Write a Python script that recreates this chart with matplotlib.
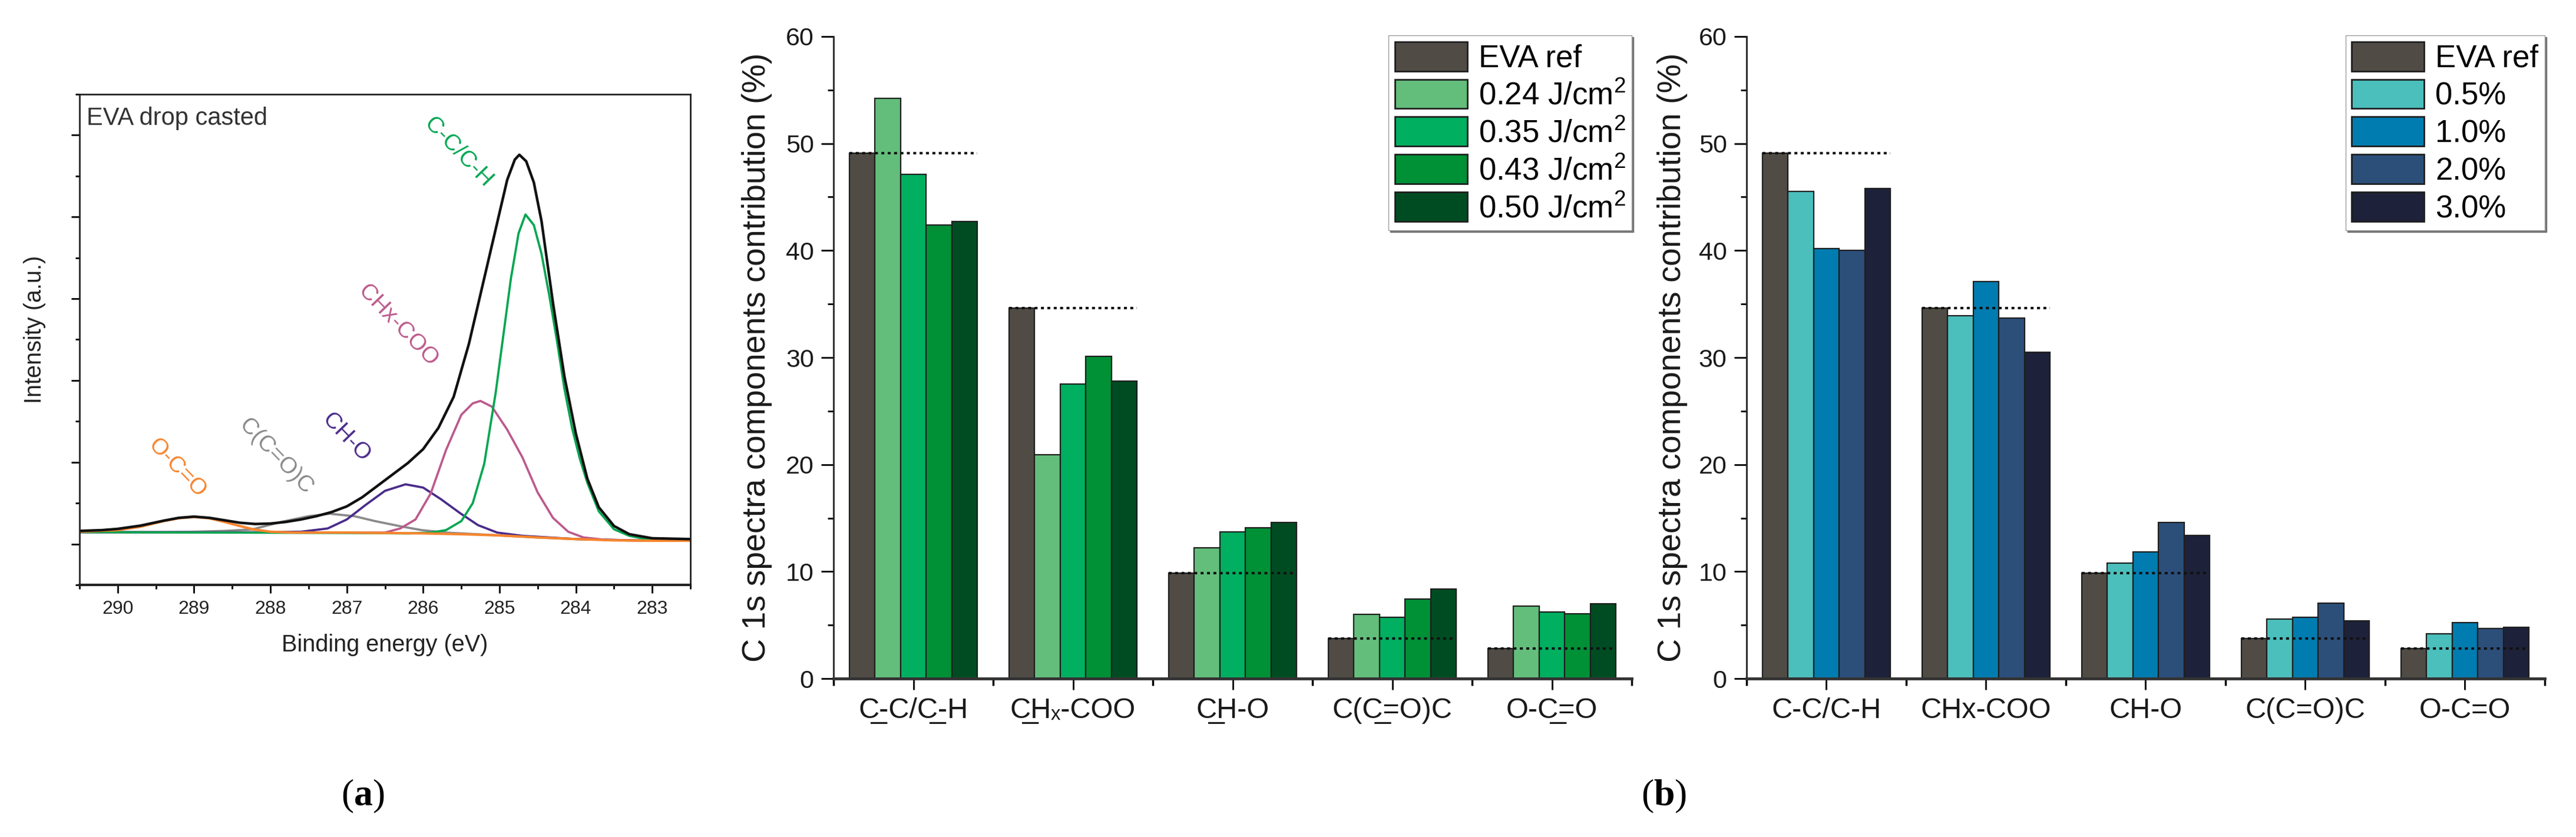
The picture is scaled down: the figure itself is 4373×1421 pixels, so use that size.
import numpy as np
import matplotlib.pyplot as plt
from matplotlib.patches import Patch
from matplotlib.ticker import MultipleLocator

plt.rcParams['font.family'] = ['Liberation Sans', 'DejaVu Sans']
plt.rcParams['mathtext.fontset'] = 'custom'
plt.rcParams['mathtext.rm'] = 'Liberation Sans'
plt.rcParams['mathtext.it'] = 'Liberation Sans:italic'
plt.rcParams['mathtext.bf'] = 'Liberation Serif:bold'

# ---- (a) C 1s fit of drop casted EVA ----
env_ev = [290.5, 290.2, 290.0, 289.7, 289.4, 289.2, 289.0, 288.8, 288.6, 288.4, 288.2, 288.0,
          287.8, 287.6, 287.4, 287.2, 287.0, 286.8, 286.6, 286.4, 286.2, 286.0, 285.8, 285.6,
          285.4, 285.2, 285.0, 284.9, 284.8, 284.74, 284.65, 284.55, 284.45, 284.3, 284.15,
          284.0, 283.85, 283.7, 283.5, 283.3, 283.0, 282.5]
env_int = [1.16, 1.17, 1.185, 1.225, 1.285, 1.32, 1.335, 1.32, 1.29, 1.26, 1.245, 1.25,
           1.27, 1.30, 1.34, 1.39, 1.46, 1.57, 1.71, 1.85, 1.99, 2.16, 2.42, 2.80,
           3.45, 4.25, 5.05, 5.45, 5.70, 5.76, 5.68, 5.42, 4.95, 3.95, 3.05,
           2.35, 1.80, 1.45, 1.22, 1.12, 1.07, 1.06]

cc_ev = [290.5, 287.0, 286.2, 285.9, 285.7, 285.5, 285.35, 285.2, 285.05, 284.95, 284.85, 284.75,
         284.66, 284.55, 284.45, 284.35, 284.25, 284.15, 284.05, 283.95, 283.85, 283.7, 283.5,
         283.3, 283.0, 282.5]
cc_int = [1.145, 1.135, 1.13, 1.14, 1.17, 1.28, 1.50, 1.98, 2.85, 3.55, 4.25, 4.80,
          5.03, 4.90, 4.55, 4.05, 3.50, 2.90, 2.42, 2.05, 1.75, 1.40, 1.18,
          1.10, 1.045, 1.04]

chx_ev = [290.5, 287.0, 286.5, 286.3, 286.1, 285.9, 285.7, 285.5, 285.35, 285.25, 285.1, 284.9,
          284.7, 284.5, 284.3, 284.1, 283.9, 283.6, 283.0, 282.5]
chx_int = [1.145, 1.14, 1.14, 1.19, 1.30, 1.62, 2.15, 2.58, 2.72, 2.75, 2.68, 2.40,
           2.06, 1.63, 1.32, 1.15, 1.08, 1.05, 1.04, 1.04]

cho_ev = [290.5, 288.0, 287.6, 287.25, 287.0, 286.75, 286.5, 286.23, 286.0, 285.77, 285.52,
          285.28, 285.03, 284.7, 284.0, 283.0, 282.5]
cho_int = [1.145, 1.145, 1.15, 1.19, 1.30, 1.48, 1.65, 1.73, 1.69, 1.55, 1.38,
           1.23, 1.14, 1.10, 1.06, 1.04, 1.04]

cco_ev = [290.5, 289.5, 289.0, 288.6, 288.23, 287.86, 287.5, 287.22, 286.9, 286.63, 286.26,
          286.02, 285.7, 285.3, 284.5, 284.0, 283.0, 282.5]
cco_int = [1.145, 1.145, 1.15, 1.16, 1.18, 1.27, 1.34, 1.37, 1.34, 1.28, 1.21,
           1.17, 1.14, 1.12, 1.08, 1.06, 1.04, 1.04]

occ_ev = [290.5, 290.0, 289.71, 289.4, 289.2, 289.0, 288.8, 288.6, 288.4, 288.23, 288.0, 287.7,
          287.0, 286.0, 285.5, 285.0, 284.5, 284.0, 283.5, 283.0, 282.5]
occ_int = [1.15, 1.17, 1.21, 1.28, 1.315, 1.33, 1.315, 1.27, 1.22, 1.18, 1.15, 1.14,
           1.14, 1.13, 1.12, 1.105, 1.08, 1.06, 1.045, 1.04, 1.04]

# ---- (b) component contributions (%) ----
groups_fl = ['C\u0332-C/C\u0332-H', 'C\u0332H\u2093-COO', 'C\u0332H-O', 'C(C\u0332=O)C', 'O-C\u0332=O']
groups_conc = ['C-C/C-H', 'CHx-COO', 'CH-O', 'C(C=O)C', 'O-C=O']

eva_ref = [49.1, 34.6, 9.85, 3.75, 2.8]
fl_024 = [54.2, 20.9, 12.2, 6.0, 6.78]
fl_035 = [47.1, 27.5, 13.7, 5.74, 6.2]
fl_043 = [42.4, 30.1, 14.1, 7.43, 6.06]
fl_050 = [42.7, 27.8, 14.6, 8.36, 7.0]
fl_names = ['EVA ref', '0.24 J/cm$^{2}$', '0.35 J/cm$^{2}$', '0.43 J/cm$^{2}$', '0.50 J/cm$^{2}$']
fl_colors = ['#504B45', '#63BE7B', '#00AF60', '#009036', '#004C22']

c_05 = [45.5, 33.9, 10.8, 5.56, 4.19]
c_10 = [40.2, 37.1, 11.85, 5.72, 5.22]
c_20 = [40.0, 33.7, 14.6, 7.07, 4.67]
c_30 = [45.8, 30.5, 13.4, 5.41, 4.81]
conc_names = ['EVA ref', '0.5%', '1.0%', '2.0%', '3.0%']
conc_colors = ['#504B45', '#4BBFBC', '#017CB0', '#2C4F7A', '#1D2139']

fig = plt.figure(figsize=(43.73, 14.21), dpi=100)

# ---------------- panel (a) ----------------
ax = fig.add_axes([0.03087, 0.30120, 0.23714, 0.58620])
ax.plot(cco_ev, cco_int, color='#8A8A8A', lw=2.7)
ax.plot(cho_ev, cho_int, color='#4A2B8A', lw=2.7)
ax.plot(chx_ev, chx_int, color='#BC5A8C', lw=2.7)
ax.plot(cc_ev, cc_int, color='#00A651', lw=2.7)
ax.plot(occ_ev, occ_int, color='#F7852E', lw=3)
ax.plot(env_ev, env_int, color='#111111', lw=3.2)

ax.set_xlim(290.5, 282.5)
ax.set_ylim(0.5, 6.5)
ax.xaxis.set_major_locator(MultipleLocator(1))
ax.xaxis.set_minor_locator(MultipleLocator(0.5))
ax.yaxis.set_major_locator(MultipleLocator(1))
ax.yaxis.set_minor_locator(MultipleLocator(0.5))
ax.tick_params(which='major', direction='out', length=10, width=2, labelsize=23, pad=9,
               labelcolor='#222222', labelleft=False)
ax.tick_params(which='minor', direction='out', length=5, width=2)
for s in ax.spines.values():
    s.set_linewidth(2)
    s.set_color('#222222')
ax.spines['bottom'].set_linewidth(3)

ax.set_xlabel('Binding energy (eV)', fontsize=28.5, color='#222222')
ax.xaxis.set_label_coords(0.5, -0.1)
ax.set_ylabel('Intensity (a.u.)', fontsize=28.5, color='#222222')
ax.yaxis.set_label_coords(-0.0545, 0.52)

ax.text(0.012, 0.975, 'EVA drop casted', transform=ax.transAxes, ha='left', va='top',
        fontsize=30, color='#333333')
ax.text(285.54, 5.79, 'C-C/C-H', color='#00A651', rotation=-46, ha='center', va='center', fontsize=28)
ax.text(286.33, 3.67, 'CHx-COO', color='#BC5A8C', rotation=-46, ha='center', va='center', fontsize=28)
ax.text(287.01, 2.30, 'CH-O', color='#4A2B8A', rotation=-46, ha='center', va='center', fontsize=28)
ax.text(287.93, 2.07, 'C(C=O)C', color='#8A8A8A', rotation=-46, ha='center', va='center', fontsize=28)
ax.text(289.22, 1.93, 'O-C=O', color='#F7852E', rotation=-46, ha='center', va='center', fontsize=28)

# ---------------- panel (b) ----------------
x = np.arange(1, 6)
w = 0.16
panels = [
    (0.32358, [eva_ref, fl_024, fl_035, fl_043, fl_050], fl_colors, fl_names, groups_fl, 0.6334, -0.0768),
    (0.67802, [eva_ref, c_05, c_10, c_20, c_30], conc_colors, conc_names, groups_conc, 0.9879, -0.0739),
]
for left, series, colors, names, cats, leg_x, lab_x in panels:
    ax = fig.add_axes([left, 0.18930, 0.30986, 0.76707])
    for k in range(5):
        ax.bar(x + (k - 2) * w, series[k], width=w, color=colors[k], edgecolor='#1E1E1E',
               linewidth=1.6, zorder=2)
    ax.hlines(series[0], x - 2.5 * w, x + 2.5 * w, colors='#111111', linestyles=(0, (1.2, 1.4)),
              linewidth=3, zorder=3)

    ax.set_xlim(0.5, 5.5)
    ax.set_ylim(0, 60)
    ax.set_xticks(x)
    ax.set_xticklabels(cats)
    ax.set_xticks(np.arange(0.5, 6, 1), minor=True)
    ax.yaxis.set_major_locator(MultipleLocator(10))
    ax.yaxis.set_minor_locator(MultipleLocator(5))
    ax.spines[['top', 'right']].set_visible(False)
    ax.spines['left'].set_linewidth(2)
    ax.spines['bottom'].set_linewidth(3.5)
    ax.spines['left'].set_color('#222222')
    ax.spines['bottom'].set_color('#333333')
    ax.tick_params(which='major', direction='out', width=2, pad=9, labelcolor='#1A1A1A')
    ax.tick_params(axis='y', which='major', length=15, labelsize=31)
    ax.tick_params(axis='x', which='major', length=14, labelsize=35)
    ax.tick_params(axis='y', which='minor', direction='out', length=7, width=2)
    ax.tick_params(axis='x', which='minor', direction='out', length=8.5, width=2.5)

    ax.set_ylabel('C 1s spectra components contribution (%)', fontsize=40, color='#1A1A1A')
    ax.yaxis.set_label_coords(lab_x, 0.5)

    handles = [Patch(facecolor=colors[k], edgecolor='#1E1E1E', linewidth=2) for k in range(5)]
    ax.legend(handles, names, loc='upper right', bbox_to_anchor=(leg_x, 0.9578),
              bbox_transform=fig.transFigure, borderaxespad=0, fontsize=38, frameon=True,
              fancybox=False, edgecolor='#9A9A9A', framealpha=1,
              shadow={'color': '0.45', 'alpha': 1},
              handlelength=2.33, handleheight=1.08, handletextpad=0.36,
              labelspacing=0.19, borderpad=0.2)

fig.text(616 / 4373, 1 - 1352 / 1421, r'($\mathbf{a}$)', ha='center', va='center',
         family='Liberation Serif', fontsize=46)
fig.text(2825 / 4373, 1 - 1352 / 1421, r'($\mathbf{b}$)', ha='center', va='center',
         family='Liberation Serif', fontsize=46)

fig.savefig('out.png', dpi=100)
